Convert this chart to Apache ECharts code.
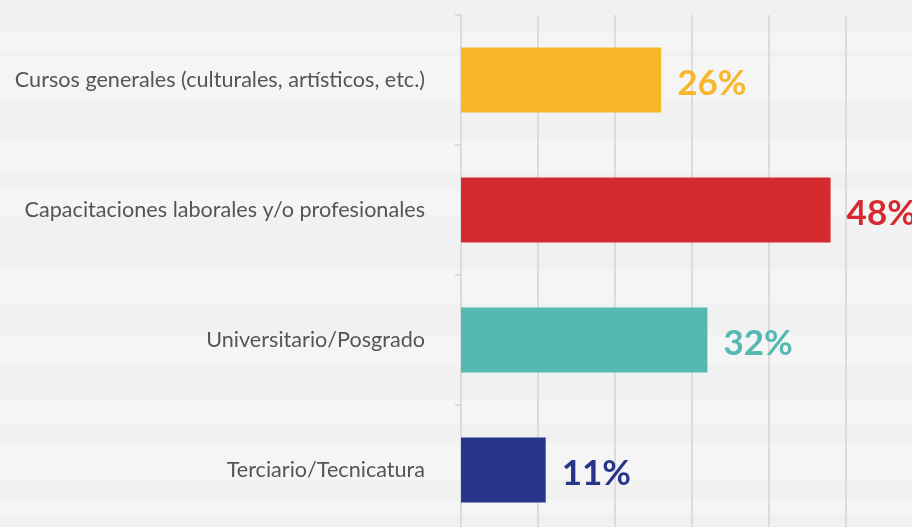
<!DOCTYPE html>
<html>
<head>
<meta charset="utf-8">
<script src="https://cdn.jsdelivr.net/npm/echarts@6/dist/echarts.min.js"></script>
<style>
html, body { margin: 0; padding: 0; background: #f1f1f1; overflow: hidden; width: 912px; height: 527px; }
#main { width: 930px; height: 545px; }
</style>
</head>
<body>
<div id="main"></div>
<script>
// categorias de arriba hacia abajo
var categorias = [
    'Cursos generales (culturales, artísticos, etc.)',
    'Capacitaciones laborales y/o profesionales',
    'Universitario/Posgrado',
    'Terciario/Tecnicatura'
];
var valores = [26, 48, 32, 11];
var colores = ['#f8b62b', '#d52b2f', '#55b9b2', '#283589'];

// franjas claras del fondo (decorativas)
var franjas = [[33, 17], [57, 45], [140, 32], [190, 25], [270, 33], [335, 30], [400, 25], [443, 37], [500, 14]];

var myChart = echarts.init(document.getElementById('main'));

var fondo = franjas.map(function (f) {
    return {
        type: 'rect',
        z: -10,
        shape: { x: 0, y: f[0], width: 930, height: f[1] },
        style: { fill: '#f5f5f5' }
    };
});

var option = {
    backgroundColor: '#f1f1f1',
    graphic: fondo,
    grid: {
        left: 461,
        top: 15,
        width: 462,
        height: 520
    },
    xAxis: {
        type: 'value',
        min: 0,
        max: 60,
        interval: 10,
        axisLine: { show: false },
        axisTick: { show: false },
        axisLabel: { show: false },
        splitLine: { lineStyle: { color: '#dcdcdc', width: 2 } }
    },
    yAxis: {
        type: 'category',
        inverse: true,
        data: categorias,
        axisLine: { show: true, lineStyle: { color: '#dcdcdc', width: 2 } },
        axisTick: { show: true, length: 6, lineStyle: { color: '#dcdcdc', width: 2 } },
        axisLabel: {
            margin: 36,
            fontFamily: 'Lato',
            fontSize: 21.6,
            color: '#555555'
        }
    },
    series: [{
        type: 'bar',
        barWidth: 65,
        data: valores.map(function (v, i) {
            return {
                value: v,
                itemStyle: { color: colores[i] },
                label: { color: colores[i] }
            };
        }),
        label: {
            show: true,
            position: 'right',
            distance: 16,
            offset: [0, 4],
            formatter: '{c}%',
            fontFamily: 'Lato',
            fontWeight: 'bold',
            fontSize: 35
        }
    }]
};

myChart.setOption(option);
</script>
</body>
</html>
